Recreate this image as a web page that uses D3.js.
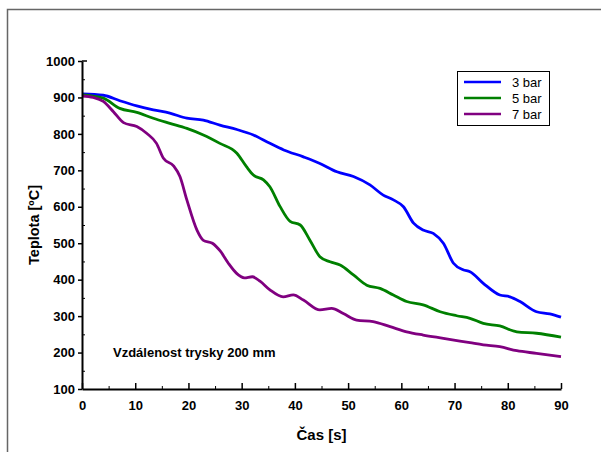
<!DOCTYPE html>
<html lang="cs">
<head>
<meta charset="UTF-8">
<title>Teplota vs čas</title>
<script src="https://cdn.jsdelivr.net/npm/d3@7"></script>
<style>
  body { margin: 0; background: #fff; }
  svg { display: block; font-family: "Liberation Sans", Arial, sans-serif; }
</style>
</head>
<body>
<svg width="601" height="452"></svg>
<script>
    // values (time in s, temperature in °C)
    const t3 = [0, 4, 7.1, 10.3, 13.4, 16.5, 19.7, 22.8, 25.9, 29.1, 32.2, 35.3, 37.9, 41.6, 44.7, 47.9, 51, 54.1, 56.6, 58.5, 60.4, 62.3, 64.1, 66, 67.9, 69.8, 71.6, 72.9, 75.4, 78.5, 80.4, 82.3, 85.4, 87.9, 90];
    const v3 = [910, 906, 891, 877, 866, 857, 843, 838, 824, 812, 797, 774, 756, 737, 719, 696, 683, 660, 632, 619, 600, 555, 536, 527, 500, 445, 427, 422, 390, 358, 353, 340, 312, 306, 297];

    const t5 = [0, 4, 7.1, 10.3, 13.4, 16.5, 19.7, 22.8, 25.9, 29.1, 30.9, 32.2, 34.1, 35.3, 37.2, 39.1, 41, 42.8, 44.7, 46.6, 48.5, 51, 53.5, 56, 58.5, 61, 64.1, 67.3, 70.4, 72.9, 75.4, 78.5, 81.7, 85.4, 90];
    const v5 = [907, 898, 870, 859, 843, 829, 815, 797, 774, 747, 710, 687, 674, 655, 601, 560, 550, 509, 463, 449, 440, 413, 385, 376, 358, 340, 331, 312, 301, 294, 280, 273, 257, 253, 242];

    const t7 = [0, 2.1, 4, 5.9, 7.8, 10.3, 12.2, 14, 15.3, 17.2, 18.4, 19.7, 21.6, 22.8, 24.5, 26, 27.5, 29, 30.5, 32, 33.5, 35.3, 37.8, 39.7, 41.6, 44.7, 46.9, 49.1, 51.6, 54.7, 57.9, 61, 64.1, 67.9, 72.9, 75.4, 78.5, 81.7, 85.4, 90];
    const v7 = [904, 900, 889, 861, 831, 820, 801, 774, 733, 712, 683, 619, 536, 508, 500, 478, 445, 418, 405, 408, 395, 372, 353, 358, 344, 317, 321, 307, 289, 285, 271, 257, 248, 239, 227, 221, 216, 205, 198, 189];

    const seriesNames = ["3 bar", "5 bar", "7 bar"];
    const seriesColors = ["#0000ff", "#008000", "#800080"];
    const xTicks = [0, 10, 20, 30, 40, 50, 60, 70, 80, 90];
    const yTicks = [100, 200, 300, 400, 500, 600, 700, 800, 900, 1000];

    const series = [[t3, v3], [t5, v5], [t7, v7]].map(([t, v], i) => ({
        name: seriesNames[i],
        color: seriesColors[i],
        values: t.map((d, j) => ({t: d, v: v[j]}))
    }));

    const svg = d3.select("svg");

    // outer frame (runs off the right and bottom edge)
    svg.append("rect")
        .attr("x", 7.5).attr("y", 9.5)
        .attr("width", 620).attr("height", 470)
        .attr("fill", "none")
        .attr("stroke", "#666")
        .attr("stroke-width", 1.5);

    const x = d3.scaleLinear().domain([0, 90]).range([82, 561]);
    const y = d3.scaleLinear().domain([100, 1000]).range([389, 61]);

    const line = d3.line()
        .x(d => x(d.t))
        .y(d => y(d.v))
        .curve(d3.curveMonotoneX);

    svg.append("g")
        .selectAll("path")
        .data(series)
        .join("path")
        .attr("fill", "none")
        .attr("stroke", d => d.color)
        .attr("stroke-width", 2.8)
        .attr("stroke-linejoin", "round")
        .attr("d", d => line(d.values));

    const boldTicks = g => g.selectAll("text")
        .attr("font-size", 13).attr("font-weight", "bold").attr("fill", "#000");

    // x axis: ticks point inward
    svg.append("g")
        .attr("transform", `translate(0,${y(100)})`)
        .call(d3.axisBottom(x).tickValues(d3.range(5, 90, 10)).tickSize(-3).tickFormat(""))
        .call(g => g.select(".domain").remove());
    svg.append("g")
        .attr("transform", `translate(0,${y(100)})`)
        .call(d3.axisBottom(x).tickValues(xTicks).tickSize(-6).tickSizeOuter(0).tickPadding(12).tickFormat(d3.format("d")))
        .call(g => g.select(".domain").attr("stroke-width", 2))
        .call(g => g.selectAll(".tick line").attr("stroke-width", 1.5))
        .call(boldTicks);

    // y axis: major outward, minor inward
    svg.append("g")
        .attr("transform", `translate(${x(0)},0)`)
        .call(d3.axisLeft(y).tickValues(d3.range(150, 1000, 100)).tickSize(-3).tickFormat(""))
        .call(g => g.select(".domain").remove());
    svg.append("g")
        .attr("transform", `translate(${x(0)},0)`)
        .call(d3.axisLeft(y).tickValues(yTicks).tickSize(4).tickSizeOuter(0).tickPadding(3).tickFormat(d3.format("d")))
        .call(g => g.select(".domain").attr("stroke-width", 2))
        .call(g => g.selectAll(".tick line").attr("stroke-width", 1.5))
        .call(boldTicks);
    svg.append("line")
        .attr("x1", x(0)).attr("x2", x(0) + 5)
        .attr("y1", y(1000)).attr("y2", y(1000))
        .attr("stroke", "#000").attr("stroke-width", 1.5);

    // axis titles
    svg.append("text")
        .attr("x", (x(0) + x(90)) / 2).attr("y", 440)
        .attr("text-anchor", "middle")
        .attr("font-size", 15).attr("font-weight", "bold")
        .text("Čas [s]");
    svg.append("text")
        .attr("transform", `translate(39,${(y(100) + y(1000)) / 2}) rotate(-90)`)
        .attr("text-anchor", "middle")
        .attr("font-size", 14.5).attr("font-weight", "bold")
        .text("Teplota [ºC]");

    svg.append("text")
        .attr("x", 113).attr("y", 357)
        .attr("font-size", 13).attr("font-weight", "bold")
        .text("Vzdálenost trysky 200 mm");

    // legend
    const legend = svg.append("g");
    legend.append("rect")
        .attr("x", 457.5).attr("y", 71.5)
        .attr("width", 92).attr("height", 54)
        .attr("fill", "#fff").attr("stroke", "#000");
    const item = legend.selectAll("g")
        .data(series)
        .join("g")
        .attr("transform", (d, i) => `translate(0,${82 + i * 16})`);
    item.append("line")
        .attr("x1", 464).attr("x2", 501)
        .attr("stroke", d => d.color).attr("stroke-width", 2.5);
    item.append("text")
        .attr("x", 512).attr("dy", "0.35em")
        .attr("font-size", 13)
        .text(d => d.name);
</script>
</body>
</html>
